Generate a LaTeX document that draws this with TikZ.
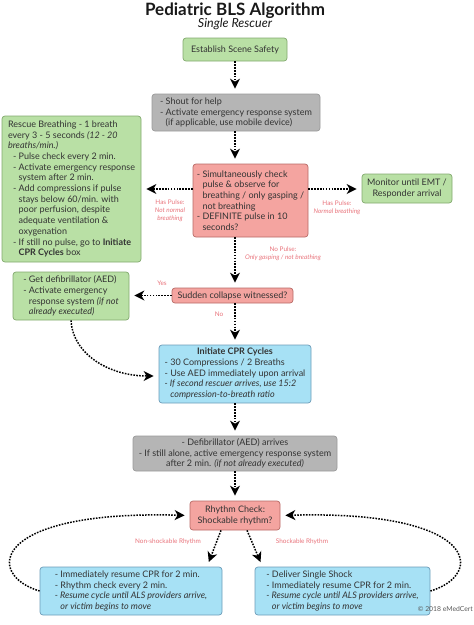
\documentclass[tikz,border=0pt]{standalone}
\usepackage{fontspec}
\setmainfont{Lato}
\usetikzlibrary{arrows.meta}
\definecolor{txt}{HTML}{333333}
\definecolor{gfill}{HTML}{B9E0A5}
\definecolor{gline}{HTML}{82A96E}
\definecolor{grfill}{HTML}{B5B5B5}
\definecolor{grline}{HTML}{999999}
\definecolor{rfill}{HTML}{F4A4A0}
\definecolor{rline}{HTML}{B86A66}
\definecolor{bfill}{HTML}{A7E1F5}
\definecolor{bline}{HTML}{6C9CB8}
\definecolor{pinklbl}{HTML}{E8737B}
\newlength\dw
\newcommand\ind{\settowidth{\dw}{-\ }\hspace*{\dw}}
\begin{document}
\begin{tikzpicture}[x=1pt,y=-1pt,
  box/.style={draw, rounded corners=3pt, line width=0.7pt, inner xsep=2.5pt, inner ysep=1pt,
    text=txt, font=\fontsize{9}{10.7}\selectfont, align=left},
  gbox/.style={box, fill=gfill, draw=gline},
  graybox/.style={box, fill=grfill, draw=grline},
  rbox/.style={box, fill=rfill, draw=rline},
  bbox/.style={box, fill=bfill, draw=bline},
  lbl/.style={text=pinklbl, font=\fontsize{6.4}{8}\selectfont, align=center, inner sep=0pt},
  arr/.style={line width=1.5pt, dash pattern=on 1.6pt off 1.3pt,
    -{Stealth[length=10pt,width=10pt,inset=3pt]}, shorten >=5pt}
]
\useasboundingbox (0,0) rectangle (474,625);

\node[anchor=base, inner sep=0pt, text=black!90, font=\fontsize{17}{19}\selectfont\bfseries] (title) at (235,15) {Pediatric BLS Algorithm};
\node[anchor=base, inner sep=0pt, text=black!90, font=\fontsize{12.5}{14}\selectfont\itshape] (sub) at (235,27.5) {Single Rescuer};

\node[gbox, align=center, minimum width=104pt, minimum height=23pt] (est) at (235,49.5) {Establish Scene Safety};

\node[graybox, minimum width=168pt, minimum height=37pt] (shout) at (236,112.5)
 {- Shout for help\\- Activate emergency response system\\\ind(if applicable, use mobile device)};

\node[gbox, minimum width=139pt, minimum height=146pt] (rescue) at (71.5,189)
 {Rescue Breathing - 1 breath\\
  every 3 - 5 seconds \textit{(12 - 20}\\
  \textit{breaths/min.)}\\
  \hspace*{5pt}- Pulse check every 2 min.\\
  \hspace*{5pt}- Activate emergency response\\
  \hspace*{5pt}\ind system after 2 min.\\
  \hspace*{5pt}- Add compressions if pulse\\
  \hspace*{5pt}\ind stays below 60/min. with\\
  \hspace*{5pt}\ind poor perfusion, despite\\
  \hspace*{5pt}\ind adequate ventilation \&\\
  \hspace*{5pt}\ind oxygenation\\
  \hspace*{5pt}- If still no pulse, go to \textbf{Initiate}\\
  \hspace*{5pt}\ind\textbf{CPR Cycles} box};

\node[rbox, minimum width=115pt, minimum height=73pt] (red) at (250.5,200.5)
 {- Simultaneously check\\
  \ind pulse \& observe for\\
  \ind breathing / only gasping /\\
  \ind not breathing\\
  - DEFINITE pulse in 10\\
  \ind seconds?};

\node[gbox, align=center, minimum width=90pt, minimum height=29pt] (monitor) at (407,188.5)
 {Monitor until EMT /\\Responder arrival};

\node[gbox, minimum width=116pt, minimum height=48pt] (aed) at (71,296)
 {- Get defibrillator (AED)\\
  - Activate emergency\\
  \ind response system \textit{(if not}\\
  \ind\textit{already executed)}};

\node[rbox, align=center, minimum width=121pt, minimum height=15pt] (sudden) at (232.5,295.5)
 {Sudden collapse witnessed?};

\node[bbox, minimum width=152pt, minimum height=58pt] (cpr) at (235,374)
 {\renewcommand\arraystretch{1}\begin{tabular}{@{}l@{}}
  \multicolumn{1}{@{}c@{}}{\textbf{Initiate CPR Cycles}}\\
  - 30 Compressions / 2 Breaths\\
  - Use AED immediately upon arrival\\
  \textit{- If second rescuer arrives, use 15:2}\\
  \ind\textit{compression-to-breath ratio}
  \end{tabular}};

\node[graybox, align=center, minimum width=204pt, minimum height=35pt] (defib) at (235,453.5)
 {- Defibrillator (AED) arrives\\
  - If still alone, active emergency response system\\
  after 2 min. \textit{(if not already executed)}};

\node[rbox, align=center, minimum width=90pt, minimum height=29pt] (rhythm) at (235,515.5)
 {Rhythm Check:\\Shockable rhythm?};

\node[bbox, minimum width=182pt, minimum height=48pt] (lb) at (131,591)
 {- Immediately resume CPR for 2 min.\\
  - Rhythm check every 2 min.\\
  \textit{- Resume cycle until ALS providers arrive,}\\
  \ind\textit{or victim begins to move}};

\node[bbox, minimum width=175pt, minimum height=48pt] (rb) at (342.5,591)
 {- Deliver Single Shock\\
  - Immediately resume CPR for 2 min.\\
  \textit{- Resume cycle until ALS providers arrive,}\\
  \ind\textit{or victim begins to move}};

% labels
\node[lbl] (l1) at (170,211) {Has Pulse:\\\textit{Not normal}\\\textit{breathing}};
\node[lbl] (l2) at (337,208) {Has Pulse:\\\textit{Normal breathing}};
\node[lbl] (l3) at (283,254) {No Pulse:\\\textit{Only gasping / not breathing}};
\node[lbl] (l4) at (162,283) {Yes};
\node[lbl] (l5) at (219,314) {No};
\node[lbl] (l6) at (168,542) {Non-shockable Rhythm};
\node[lbl] (l7) at (302,542) {Shockable Rhythm};
\node[anchor=east, text=black!65, font=\fontsize{6.8}{8}\selectfont, inner sep=1pt] (copy) at (474,609.5) {© 2018 eMedCert};

% connectors
\coordinate (hy) at (0,189);
\coordinate (cy) at (0,376);
\draw[arr] (est.south) -- (est.south |- shout.north);
\draw[arr] (shout.south -| est.south) -- (red.north -| est.south);
\draw[arr] (red.west |- hy) -- (rescue.east |- hy);
\draw[arr] (red.east |- hy) -- (monitor.west |- hy);
\draw[arr] (red.south -| est.south) -- (sudden.north -| est.south);
\draw[arr] (sudden.west) -- (sudden.west -| aed.east);
\draw[arr] (sudden.south -| est.south) -- (cpr.north -| est.south);
\draw[arr] (aed.south) .. controls (73,355) and (110,376) .. (cpr.west |- cy);
\draw[arr] (cpr.south -| est.south) -- (defib.north -| est.south);
\draw[arr] (defib.south -| est.south) -- (rhythm.north -| est.south);
\draw[arr] ([xshift=-14pt]rhythm.south) -- ([xshift=76pt]lb.north);
\draw[arr] ([xshift=12pt]rhythm.south) -- ([xshift=-80pt]rb.north);
\draw[arr] (lb.west) .. controls (-15,575) and (-10,510) .. (rhythm.west);
\draw[arr] (rb.east) .. controls (485,575) and (480,510) .. (rhythm.east);
\end{tikzpicture}
\end{document}
